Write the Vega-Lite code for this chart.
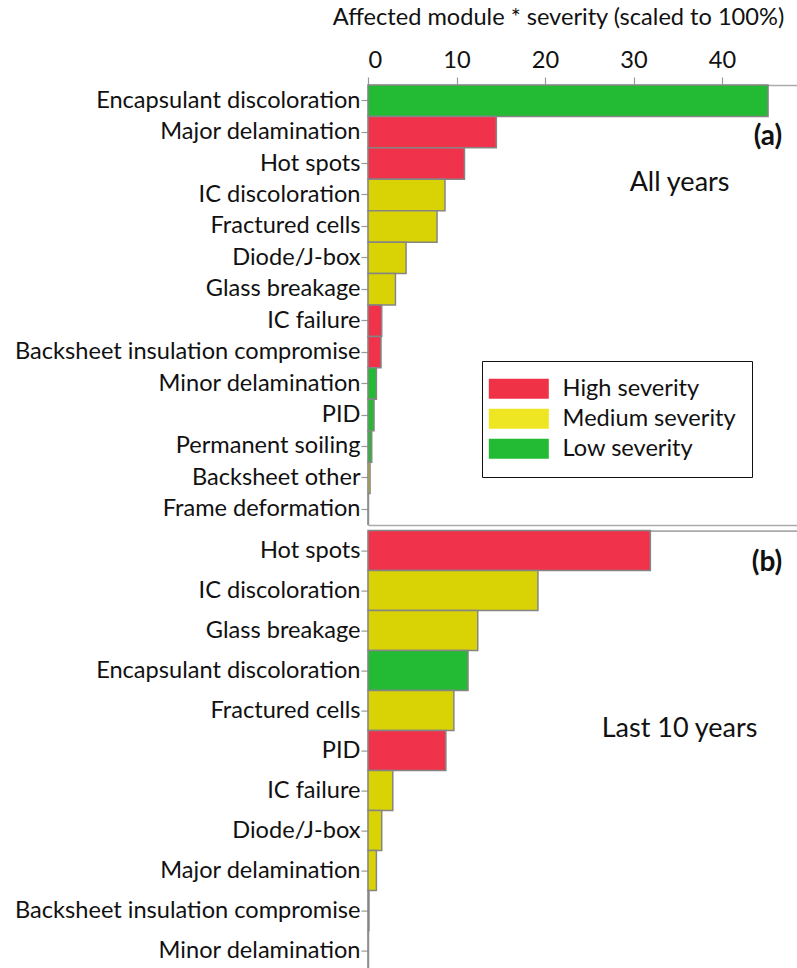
{
  "$schema": "https://vega.github.io/schema/vega-lite/v6.json",
  "padding": {"left": 14, "top": 5, "right": 0, "bottom": 0},
  "spacing": 3.6,
  "config": {
    "font": "Lato",
    "view": {"stroke": null},
    "axis": {"grid": false, "labelFont": "Lato", "titleFont": "Lato", "labelColor": "#111", "titleColor": "#111", "domainColor": "#aaaaaa", "domainWidth": 1.6, "tickColor": "#999999", "tickWidth": 1.2}
  },
  "datasets": {
    "all": [
      {"defect": "Encapsulant discoloration", "value": 45.2, "sev": "Low"},
      {"defect": "Major delamination", "value": 14.5, "sev": "High"},
      {"defect": "Hot spots", "value": 10.9, "sev": "High"},
      {"defect": "IC discoloration", "value": 8.7, "sev": "Medium"},
      {"defect": "Fractured cells", "value": 7.8, "sev": "Medium"},
      {"defect": "Diode/J-box", "value": 4.3, "sev": "Medium"},
      {"defect": "Glass breakage", "value": 3.1, "sev": "Medium"},
      {"defect": "IC failure", "value": 1.55, "sev": "High"},
      {"defect": "Backsheet insulation compromise", "value": 1.47, "sev": "High"},
      {"defect": "Minor delamination", "value": 0.95, "sev": "Low"},
      {"defect": "PID", "value": 0.68, "sev": "Low"},
      {"defect": "Permanent soiling", "value": 0.42, "sev": "Low"},
      {"defect": "Backsheet other", "value": 0.23, "sev": "Medium"},
      {"defect": "Frame deformation", "value": 0, "sev": "Medium"}
    ],
    "last10": [
      {"defect": "Hot spots", "value": 31.9, "sev": "High"},
      {"defect": "IC discoloration", "value": 19.2, "sev": "Medium"},
      {"defect": "Glass breakage", "value": 12.4, "sev": "Medium"},
      {"defect": "Encapsulant discoloration", "value": 11.3, "sev": "Low"},
      {"defect": "Fractured cells", "value": 9.7, "sev": "Medium"},
      {"defect": "PID", "value": 8.8, "sev": "High"},
      {"defect": "IC failure", "value": 2.8, "sev": "Medium"},
      {"defect": "Diode/J-box", "value": 1.55, "sev": "Medium"},
      {"defect": "Major delamination", "value": 0.95, "sev": "Medium"},
      {"defect": "Backsheet insulation compromise", "value": 0.1, "sev": "High"},
      {"defect": "Minor delamination", "value": 0, "sev": "High"}
    ],
    "legendrows": [
      {"defect": "Frame deformation", "value": 0, "label": "High severity"},
      {"defect": "Frame deformation", "value": 0, "label": "Medium severity"},
      {"defect": "Frame deformation", "value": 0, "label": "Low severity"}
    ]
  },
  "vconcat": [
    {
      "width": 429,
      "height": 440,
      "resolve": {"axis": {"x": "independent"}},
      "layer": [
        {
          "data": {"name": "all"},
          "mark": {"type": "bar", "stroke": "#858585", "strokeWidth": 1.5},
          "encoding": {
            "y": {"field": "defect", "type": "nominal", "sort": null, "scale": {"paddingInner": 0, "paddingOuter": 0},
                  "axis": {"title": null, "labelFontSize": 23.6, "labelLimit": 500, "tickSize": 7, "labelPadding": 1}},
            "x": {"field": "value", "type": "quantitative", "scale": {"domain": [0, 48.47], "nice": false},
                  "axis": {"orient": "top", "values": [0, 10, 20, 30, 40], "labelFontSize": 23.6, "tickSize": 8, "labelPadding": 5,
                           "title": "Affected module * severity (scaled to 100%)", "titleFontSize": 23.6, "titleFontWeight": "normal", "titlePadding": 19, "titleX": 190}},
            "fill": {"field": "sev", "type": "nominal", "scale": {"domain": ["High", "Medium", "Low"], "range": ["#f0334a", "#d9d306", "#22bb33"]}, "legend": null}
          }
        },
        {
          "data": {"name": "legendrows"},
          "mark": {"type": "bar", "strokeWidth": 0, "opacity": 1},
          "encoding": {
            "y": {"field": "defect", "type": "nominal", "sort": null},
            "x": {"field": "value", "type": "quantitative",
                  "axis": {"orient": "bottom", "labels": false, "ticks": false, "title": null, "domain": true}},
            "color": {"field": "label", "type": "nominal",
                      "scale": {"domain": ["High severity", "Medium severity", "Low severity"], "range": ["#f03247", "#eee622", "#22bb33"]},
                      "legend": {"orient": "none", "legendX": 114, "legendY": 276, "title": null,
                                 "symbolType": "M-2.1,-1H3.9V1H-2.1Z", "symbolSize": 400, "symbolStrokeWidth": 0,
                                 "labelFontSize": 23.6, "labelFont": "Lato", "labelColor": "#111", "labelOffset": 41, "labelLimit": 300,
                                 "padding": 16, "rowPadding": 5, "strokeColor": "#111", "fillColor": "white",
                                 "encode": {"legend": {"update": {"strokeWidth": {"value": 2}}}}}}
          }
        },
        {
          "data": {"values": [{}]},
          "mark": {"type": "text", "align": "right", "baseline": "middle", "fontWeight": "bold", "fontSize": 28, "font": "Lato", "color": "#111", "dy": 5},
          "encoding": {"x": {"datum": 46.8, "axis": null}, "y": {"datum": "Major delamination"}, "text": {"value": "(a)"}}
        },
        {
          "data": {"values": [{}]},
          "mark": {"type": "text", "align": "center", "baseline": "middle", "fontSize": 27, "font": "Lato", "color": "#111", "dy": -12},
          "encoding": {"x": {"datum": 35.2, "axis": null}, "y": {"datum": "IC discoloration"}, "text": {"value": "All years"}}
        }
      ]
    },
    {
      "width": 429,
      "height": 440,
      "layer": [
        {
          "data": {"name": "last10"},
          "mark": {"type": "bar", "stroke": "#858585", "strokeWidth": 1.5},
          "encoding": {
            "y": {"field": "defect", "type": "nominal", "sort": null, "scale": {"paddingInner": 0, "paddingOuter": 0},
                  "axis": {"title": null, "labelFontSize": 23.6, "labelLimit": 500, "tickSize": 7, "labelPadding": 1}},
            "x": {"field": "value", "type": "quantitative", "scale": {"domain": [0, 48.47], "nice": false},
                  "axis": {"orient": "top", "labels": false, "ticks": false, "title": null}},
            "fill": {"field": "sev", "type": "nominal", "scale": {"domain": ["High", "Medium", "Low"], "range": ["#f0334a", "#d9d306", "#22bb33"]}, "legend": null}
          }
        },
        {
          "data": {"values": [{}]},
          "mark": {"type": "text", "align": "right", "baseline": "middle", "fontWeight": "bold", "fontSize": 28, "font": "Lato", "color": "#111", "dy": 12},
          "encoding": {"x": {"datum": 46.8}, "y": {"datum": "Hot spots"}, "text": {"value": "(b)"}}
        },
        {
          "data": {"values": [{}]},
          "mark": {"type": "text", "align": "center", "baseline": "middle", "fontSize": 27, "font": "Lato", "color": "#111", "dy": 18},
          "encoding": {"x": {"datum": 35.2}, "y": {"datum": "Fractured cells"}, "text": {"value": "Last 10 years"}}
        }
      ]
    }
  ]
}
